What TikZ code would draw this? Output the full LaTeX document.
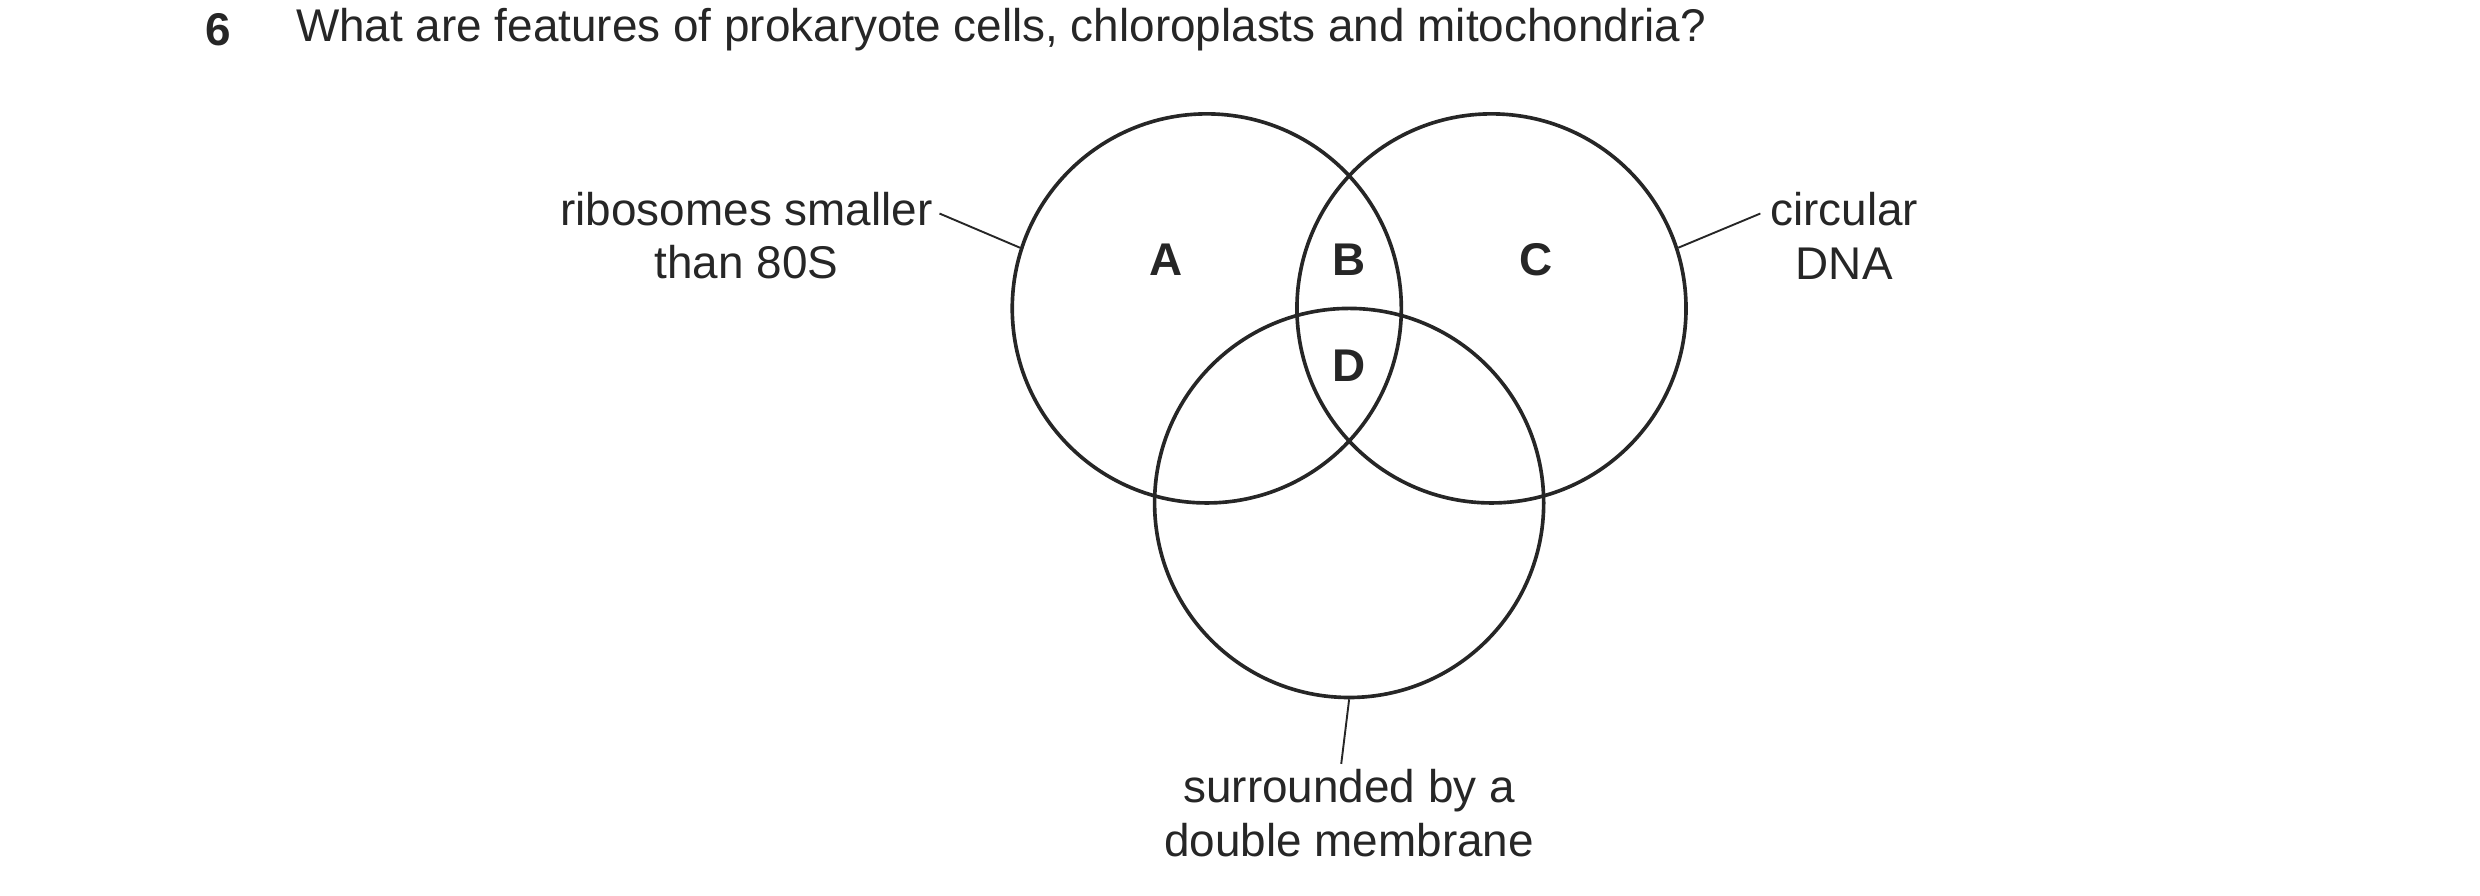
\documentclass[tikz,border=0pt]{standalone}
\usepackage{fontspec}
\setmainfont{Liberation Sans}
\begin{document}
\begin{tikzpicture}[x=1pt,y=-1pt,
  circ/.style={draw=black!85,line width=2.3pt},
  lead/.style={draw=black!85,line width=1.2pt},
  txt/.style={font=\fontsize{29}{34}\selectfont,text=black!85,align=center,inner sep=0pt},
  lab/.style={font=\fontsize{29}{34}\selectfont\bfseries,text=black!85,inner sep=0pt}]
\useasboundingbox (0,0) rectangle (1568,566.5);
\node[lab,anchor=west] (num) at (130,19) {6};
\node[txt,anchor=west] (q) at (187,19) {What are features of prokaryote cells, chloroplasts and mitochondria?};
\node[circ,circle,minimum size=246pt,inner sep=0pt] (L) at (763,195) {};
\node[circ,circle,minimum size=246pt,inner sep=0pt] (R) at (943,195) {};
\node[circ,circle,minimum size=246pt,inner sep=0pt] (Bt) at (853,318) {};
\node[lab] (A) at (737,164) {A};
\node[lab] (B) at (853,164) {B};
\node[lab] (C) at (971,164) {C};
\node[lab] (D) at (853,231) {D};
\node[txt] (t1) at (472,149) {ribosomes smaller\\than 80S};
\node[txt] (t2) at (1166,149) {circular\\DNA};
\node[txt] (t3) at (853,514) {surrounded by a\\double membrane};
\coordinate (l1) at (594,135);
\coordinate (r1) at (1113,135);
\coordinate (b1) at (848,483);
\draw[lead] (l1) -- (L.162);
\draw[lead] (r1) -- (R.18);
\draw[lead] (b1) -- (Bt.south);
\end{tikzpicture}
\end{document}
